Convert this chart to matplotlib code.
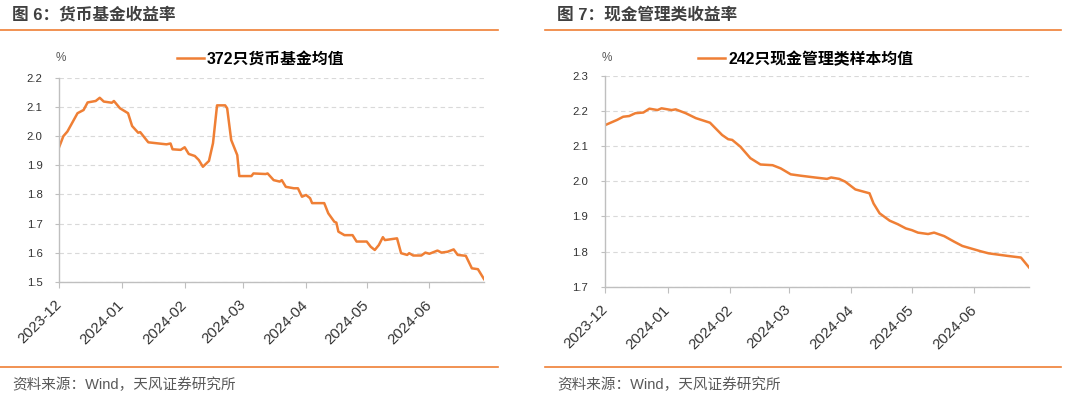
import pandas as pd
import matplotlib
matplotlib.use("Agg")
from matplotlib import pyplot as plt
import matplotlib.dates as mdates
from matplotlib.lines import Line2D

plt.rcParams['font.family'] = ['Liberation Sans', 'Noto Sans CJK SC', 'DejaVu Sans']

# 货币基金 (372只) 收益率均值, %
mmf_dates = ["2023-12-01", "2023-12-03", "2023-12-05", "2023-12-10", "2023-12-13", "2023-12-15",
             "2023-12-19", "2023-12-21", "2023-12-23", "2023-12-27", "2023-12-28", "2023-12-31",
             "2024-01-04", "2024-01-06", "2024-01-09", "2024-01-10", "2024-01-14", "2024-01-23",
             "2024-01-25", "2024-01-26", "2024-01-30",
             "2024-02-01", "2024-02-03", "2024-02-06", "2024-02-08", "2024-02-10", "2024-02-13",
             "2024-02-15", "2024-02-17", "2024-02-21", "2024-02-22", "2024-02-24", "2024-02-27",
             "2024-02-28",
             "2024-03-05", "2024-03-06", "2024-03-12", "2024-03-13", "2024-03-16", "2024-03-19",
             "2024-03-20", "2024-03-22", "2024-03-26", "2024-03-28", "2024-03-30",
             "2024-04-01", "2024-04-03", "2024-04-04", "2024-04-10", "2024-04-12", "2024-04-15",
             "2024-04-16", "2024-04-17", "2024-04-20", "2024-04-24", "2024-04-26",
             "2024-05-01", "2024-05-03", "2024-05-05", "2024-05-07", "2024-05-09", "2024-05-10",
             "2024-05-16", "2024-05-18", "2024-05-21", "2024-05-22", "2024-05-24", "2024-05-28",
             "2024-05-30",
             "2024-06-01", "2024-06-05", "2024-06-07", "2024-06-10", "2024-06-13", "2024-06-15",
             "2024-06-19", "2024-06-22", "2024-06-25", "2024-06-28"]
mmf_vals = [1.964, 2.000, 2.016, 2.079, 2.090, 2.116, 2.121, 2.132, 2.119, 2.115, 2.121, 2.096,
            2.079, 2.035, 2.012, 2.014, 1.979, 1.972, 1.975, 1.955, 1.953,
            1.962, 1.939, 1.932, 1.918, 1.895, 1.915, 1.976, 2.106, 2.106, 2.096, 1.987, 1.935, 1.863,
            1.863, 1.872, 1.870, 1.872, 1.849, 1.844, 1.849, 1.826, 1.821, 1.821, 1.792,
            1.798, 1.787, 1.770, 1.770, 1.735, 1.706, 1.703, 1.672, 1.660, 1.660, 1.638,
            1.638, 1.620, 1.609, 1.626, 1.653, 1.643, 1.649, 1.598, 1.592, 1.598, 1.590, 1.590, 1.600,
            1.596, 1.607, 1.600, 1.603, 1.611, 1.592, 1.589, 1.546, 1.543, 1.509]

# 现金管理类 (242只) 样本均值, %
cash_dates = ["2023-12-01", "2023-12-07", "2023-12-10", "2023-12-13", "2023-12-16", "2023-12-20",
              "2023-12-23", "2023-12-27", "2023-12-29",
              "2024-01-03", "2024-01-05", "2024-01-10", "2024-01-15", "2024-01-22", "2024-01-28",
              "2024-01-31",
              "2024-02-02", "2024-02-06", "2024-02-11", "2024-02-16", "2024-02-22", "2024-02-26",
              "2024-03-02", "2024-03-07", "2024-03-14", "2024-03-20", "2024-03-22", "2024-03-26",
              "2024-03-29",
              "2024-04-03", "2024-04-10", "2024-04-12", "2024-04-15", "2024-04-20", "2024-04-24",
              "2024-04-28",
              "2024-05-01", "2024-05-04", "2024-05-09", "2024-05-12", "2024-05-17", "2024-05-22",
              "2024-05-26",
              "2024-06-01", "2024-06-04", "2024-06-08", "2024-06-17", "2024-06-24", "2024-06-25",
              "2024-06-28"]
cash_vals = [2.160, 2.175, 2.184, 2.186, 2.194, 2.196, 2.207, 2.203, 2.208,
             2.203, 2.205, 2.194, 2.180, 2.167, 2.132, 2.120,
             2.118, 2.099, 2.066, 2.048, 2.046, 2.037,
             2.020, 2.016, 2.011, 2.007, 2.011, 2.007, 1.999,
             1.977, 1.966, 1.937, 1.909, 1.888, 1.878, 1.866,
             1.861, 1.854, 1.850, 1.854, 1.844, 1.828, 1.816,
             1.806, 1.801, 1.795, 1.788, 1.783, 1.776, 1.755]

titles = ["图 6：货币基金收益率", "图 7：现金管理类收益率"]
labels = ["372只货币基金均值", "242只现金管理类样本均值"]
source = "资料来源：Wind，天风证券研究所"

W, H = 1080, 397
orange = '#EF7F35'
grey = '#BFBFBF'

fig = plt.figure(figsize=(W / 100, H / 100), dpi=100)

def fx(px):
    return px / W

def fy(py):
    return 1 - py / H

def panel(rect, dates, vals, ylim, label, title, x0, x1, leg_x, pct_x):
    ax = fig.add_axes(rect)
    d = pd.to_datetime(dates)
    ax.plot(d, vals, color=orange, lw=1.8, label=label, solid_joinstyle='round')
    ax.set_xlim(pd.Timestamp("2023-12-01"), pd.Timestamp("2024-06-28"))
    ax.set_ylim(*ylim)
    ax.set_yticks([round(ylim[0] + 0.1 * i, 1) for i in range(int(round((ylim[1] - ylim[0]) / 0.1)) + 1)])
    ax.yaxis.set_major_formatter(plt.FormatStrFormatter('%.1f'))
    ax.xaxis.set_major_locator(mdates.MonthLocator())
    ax.xaxis.set_major_formatter(mdates.DateFormatter('%Y-%m'))
    ax.grid(axis='y', color='#D9D9D9', lw=0.8, ls=(0, (4, 3)))
    ax.set_axisbelow(True)
    for s in ['top', 'right']:
        ax.spines[s].set_visible(False)
    for s in ['left', 'bottom']:
        ax.spines[s].set_color(grey)
        ax.spines[s].set_linewidth(1.0)
    ax.tick_params(axis='y', length=3, color=grey, labelsize=8.2, labelcolor='#333333', pad=9)
    ax.tick_params(axis='x', length=4, color=grey, labelsize=10.8, labelcolor='#333333', pad=11)
    for t in ax.get_xticklabels():
        t.set_rotation(45)
        t.set_rotation_mode('anchor')
        t.set_ha('right')
        t.set_va('center')
    ax.legend(loc='center left', bbox_to_anchor=(fx(leg_x), fy(59)), bbox_transform=fig.transFigure,
              frameon=False, handlelength=1.7, handletextpad=0.2, borderpad=0, borderaxespad=0,
              prop={'weight': 'bold', 'size': 11.4})
    fig.text(fx(pct_x), fy(58), '%', ha='center', va='center', fontsize=8.5, color='#595959')
    # title + orange rules
    fig.text(fx(x0 + 12), fy(15), title, ha='left', va='center', fontsize=12, fontweight='bold',
             color='#404040')
    fig.add_artist(Line2D([fx(x0), fx(x1)], [fy(30), fy(30)], color=orange, lw=1.2))
    fig.add_artist(Line2D([fx(x0), fx(x1)], [fy(367), fy(367)], color=orange, lw=1.2))
    fig.text(fx(x0 + 12), fy(385), source, ha='left', va='center', fontsize=10.5, color='#595959')
    return ax

panel([fx(59.3), fy(281.7), fx(484) - fx(59.3), fy(78) - fy(281.7)],
      mmf_dates, mmf_vals, (1.5, 2.2), labels[0], titles[0], 0, 498, 177, 61)
panel([fx(605), fy(286.7), fx(1029) - fx(605), fy(76) - fy(286.7)],
      cash_dates, cash_vals, (1.7, 2.3), labels[1], titles[1], 545, 1061, 698, 607)

fig.savefig("out.png", dpi=100)
